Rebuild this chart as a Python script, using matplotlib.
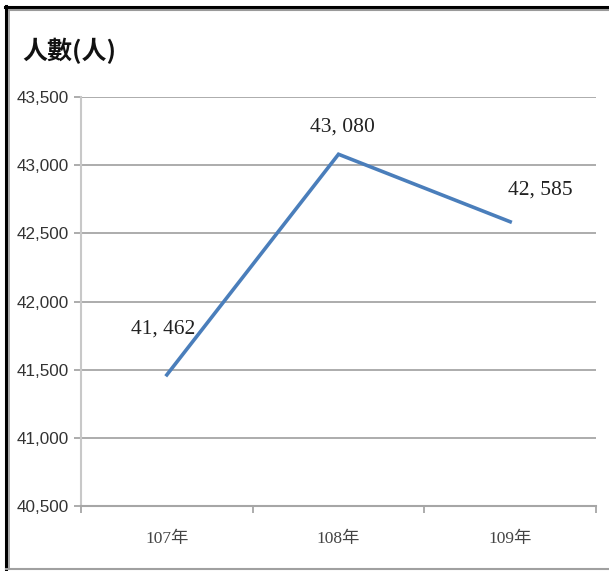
import matplotlib
matplotlib.use("Agg")
import matplotlib.pyplot as plt
from matplotlib.lines import Line2D

categories = ["107年", "108年", "109年"]
values = [41462, 43080, 42585]
value_labels = ["41, 462", "43, 080", "42, 585"]
yticks = [40500, 41000, 41500, 42000, 42500, 43000, 43500]
ytick_labels = ["40,500", "41,000", "41,500", "42,000", "42,500", "43,000", "43,500"]
title = "人數(人)"

tick_font = "Liberation Sans"
serif_font = "Liberation Serif"

W, H = 609, 571
fig = plt.figure(figsize=(W / 100, H / 100), dpi=100)
ax = fig.add_axes([81 / W, 1 - 506 / H, (596 - 81) / W, (506 - 97) / H])

x = list(range(len(categories)))
ax.plot(x, values, color="#4A7EBB", lw=2.6, solid_joinstyle="miter", zorder=3)

ax.set_xlim(-0.5, len(categories) - 0.5)
ax.set_ylim(40500, 43500)
ax.set_yticks(yticks)
ax.set_yticklabels(ytick_labels, fontfamily=tick_font, fontsize=12.3, color="#333333")
ax.yaxis.grid(True, color="#A6A6A6", lw=1.3)
ax.set_axisbelow(True)
ax.tick_params(axis="y", length=5, color="#A6A6A6", width=1.3, pad=4)

ax.set_xticks(x)
ax.set_xticklabels(categories, fontfamily=[serif_font, "Noto Sans CJK TC"], fontsize=12.5, color="#444444")
ax.set_xticks([-0.5, 0.5, 1.5, 2.5], minor=True)
ax.tick_params(axis="x", which="major", length=0, pad=18)
ax.tick_params(axis="x", which="minor", length=5, color="#A6A6A6", width=1.3)

for s in ["top", "right"]:
    ax.spines[s].set_visible(False)
ax.spines["left"].set_color("#C8C8C8")
ax.spines["left"].set_linewidth(1.5)
ax.spines["bottom"].set_color("#A6A6A6")
ax.spines["bottom"].set_linewidth(1.5)

offsets = [(-4, 46), (4, 27), (30, 32)]
for xi, v, lab, (dx, dy) in zip(x, values, value_labels, offsets):
    ax.annotate(lab, (xi, v), xytext=(dx * 0.72, dy * 0.72), textcoords="offset points",
                ha="center", va="center", fontfamily=serif_font, fontsize=15.5, color="#222222")

fig.text(22 / W, 1 - 51 / H, title, fontfamily=["Noto Sans CJK TC", "DejaVu Sans"],
         fontsize=18, fontweight="bold", ha="left", va="center", color="#111111")

def px_line(x0, y0, x1, y1, color, lw):
    fig.add_artist(Line2D([x0 / W, x1 / W], [1 - y0 / H, 1 - y1 / H],
                          transform=fig.transFigure, color=color, lw=lw))

px_line(5, 7, 609, 7, "#000000", 2.2)
px_line(8, 10, 609, 10, "#9A9A9A", 1.5)
px_line(6, 6, 6, 571, "#000000", 2.2)
px_line(9, 10, 9, 569, "#9A9A9A", 1.2)
px_line(6, 569, 609, 569, "#A0A0A0", 1.5)

fig.savefig("out.png", dpi=100)
